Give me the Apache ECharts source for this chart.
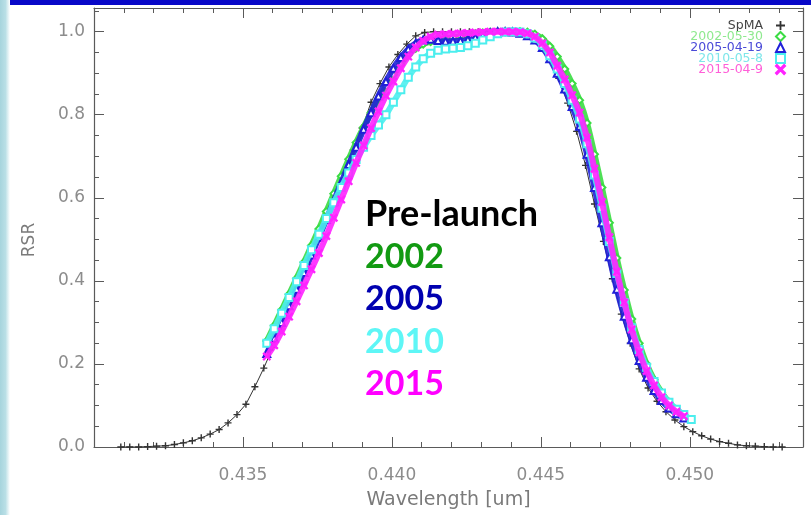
<!DOCTYPE html>
<html>
<head>
<meta charset="utf-8">
<script src="https://cdn.jsdelivr.net/npm/echarts@6/dist/echarts.min.js"></script>
<style>
html,body{margin:0;padding:0;background:#fff;}
#chart{width:811px;height:515px;}
</style>
</head>
<body>
<div id="chart"></div>
<script>
// ---- data ----
const seriesNames = ['SpMA', '2002-05-30', '2005-04-19', '2010-05-8', '2015-04-9'];
const annotationLabels = ['Pre-launch', '2002', '2005', '2010', '2015'];

// pre-launch (SpMA) wavelengths [um] and RSR
const wlPre = [0.4309,0.4312,0.4315,0.4318,0.4321,0.4324,0.4327,0.4330,0.4333,0.4336,
  0.4339,0.4342,0.4345,0.4348,0.4351,0.4354,0.4357,0.4360,0.4363,0.4366,
  0.4369,0.4372,0.4375,0.4378,0.4381,0.4384,0.4387,0.4390,0.4393,0.4396,
  0.4399,0.4402,0.4405,0.4408,0.4411,0.4414,0.4417,0.4420,0.4423,0.4426,
  0.4429,0.4432,0.4435,0.4438,0.4441,0.4444,0.4447,0.4450,0.4453,0.4456,
  0.4459,0.4462,0.4465,0.4468,0.4471,0.4474,0.4477,0.4480,0.4483,0.4486,
  0.4489,0.4492,0.4495,0.4498,0.4501,0.4504,0.4507,0.4510,0.4513,0.4516,
  0.4519,0.4522,0.4525,0.4528,0.4531];
const rsrPre = [0.000,0.000,0.000,0.001,0.002,0.003,0.006,0.010,0.015,0.022,
  0.031,0.042,0.058,0.078,0.103,0.145,0.190,0.240,0.290,0.340,
  0.388,0.440,0.495,0.550,0.605,0.660,0.715,0.768,0.830,0.875,
  0.915,0.945,0.970,0.990,0.998,1.000,1.000,1.000,1.000,1.000,
  1.000,1.000,1.000,1.000,0.999,0.996,0.986,0.968,0.935,0.888,
  0.828,0.760,0.678,0.585,0.495,0.405,0.320,0.250,0.188,0.142,
  0.110,0.085,0.065,0.049,0.037,0.027,0.019,0.013,0.009,0.005,
  0.003,0.002,0.001,0.000,0.000];

// on-orbit wavelengths [um]
const wlOrbit = [0.43580,0.43605,0.43630,0.43655,0.43680,0.43705,0.43730,0.43755,0.43780,0.43805,
  0.43830,0.43855,0.43880,0.43905,0.43930,0.43955,0.43980,0.44005,0.44030,0.44055,
  0.44080,0.44105,0.44130,0.44155,0.44180,0.44205,0.44230,0.44255,0.44280,0.44305,
  0.44330,0.44355,0.44380,0.44405,0.44430,0.44455,0.44480,0.44505,0.44530,0.44555,
  0.44580,0.44605,0.44630,0.44655,0.44680,0.44705,0.44730,0.44755,0.44780,0.44805,
  0.44830,0.44855,0.44880,0.44905,0.44930,0.44955,0.44980,0.45005];
const rsr2002 = [0.255,0.292,0.330,0.368,0.406,0.445,0.485,0.525,0.567,0.610,
  0.652,0.693,0.733,0.770,0.805,0.838,0.868,0.896,0.922,0.944,
  0.960,0.970,0.976,0.980,0.983,0.986,0.989,0.992,0.995,0.997,
  0.999,1.000,1.000,1.000,1.000,0.999,0.994,0.983,0.965,0.940,
  0.910,0.875,0.835,0.780,0.705,0.625,0.540,0.455,0.378,0.308,
  0.250,0.200,0.162,0.132,0.108,0.090,0.077,null];
const rsr2005 = [0.225,0.262,0.300,0.340,0.380,0.420,0.462,0.505,0.548,0.592,
  0.636,0.680,0.722,0.765,0.805,0.845,0.880,0.912,0.938,0.958,
  0.972,0.980,0.982,0.979,0.977,0.977,0.978,0.981,0.986,0.992,
  0.997,1.000,1.000,0.999,0.996,0.990,0.980,0.962,0.935,0.900,
  0.862,0.820,0.772,0.705,0.625,0.540,0.458,0.380,0.315,0.258,
  0.208,0.168,0.136,0.112,0.094,0.080,0.070,null];
const rsr2010 = [0.250,0.285,0.322,0.360,0.398,0.437,0.475,0.512,0.550,0.588,
  0.625,0.660,0.692,0.722,0.750,0.775,0.800,0.830,0.860,0.890,
  0.915,0.935,0.948,0.955,0.958,0.960,0.962,0.966,0.972,0.980,
  0.988,0.995,0.999,1.000,0.999,0.995,0.985,0.968,0.942,0.910,
  0.875,0.835,0.790,0.730,0.655,0.575,0.495,0.418,0.348,0.287,
  0.235,0.192,0.158,0.130,0.108,0.091,0.078,0.066];
const rsr2015 = [0.218,0.245,0.278,0.314,0.351,0.389,0.428,0.467,0.508,0.552,
  0.596,0.640,0.684,0.726,0.768,0.808,0.846,0.880,0.912,0.940,
  0.962,0.978,0.988,0.993,0.994,0.995,0.996,0.997,0.998,0.999,
  1.000,1.000,1.000,1.000,0.999,0.996,0.988,0.972,0.950,0.918,
  0.885,0.847,0.805,0.745,0.670,0.590,0.505,0.422,0.348,0.283,
  0.228,0.183,0.148,0.120,0.100,0.085,0.074,null];

// axis extents
const xMin = 0.430, xMax = 0.4538;
const yMin = 0, yMax = 1.057;

// ---- styling ----
const PLUS = 'path://M4,0H6V4H10V6H6V10H4V6H0V4H4Z';
const CROSS = 'path://M1,0L5,4L9,0L10,1L6,5L10,9L9,10L5,6L1,10L0,9L4,5L0,1Z';
const axisCol = '#5a5a5a';
const labelCol = '#8c8c8c';
const fontF = 'DejaVu Sans';

function pairs(xs, ys) {
  const out = [];
  for (let i = 0; i < xs.length; i++) if (ys[i] !== null) out.push([xs[i], ys[i]]);
  return out;
}

const orbitSeries = [
  {name: seriesNames[1], vals: rsr2002, color: '#3bdc44', symbol: 'emptyDiamond'},
  {name: seriesNames[2], vals: rsr2005, color: '#2020d8', symbol: 'emptyTriangle'},
  {name: seriesNames[3], vals: rsr2010, color: '#4ceeee', symbol: 'emptyRect'},
  {name: seriesNames[4], vals: rsr2015, color: '#ff22ff', symbol: CROSS}
];

const series = [{
  name: seriesNames[0], type: 'line', data: pairs(wlPre, rsrPre),
  symbol: PLUS, symbolSize: 7, showSymbol: true, showAllSymbol: true,
  lineStyle: {color: '#333', width: 1}, itemStyle: {color: '#333'},
  z: 2, silent: true
}];
orbitSeries.forEach((s, i) => {
  series.push({
    name: s.name, type: 'line', data: pairs(wlOrbit, s.vals), smooth: 0.3,
    symbol: s.symbol, symbolSize: 7, showSymbol: true, showAllSymbol: true,
    lineStyle: {color: s.color, width: 6, opacity: 0.9},
    itemStyle: {color: s.color, borderColor: s.color, borderWidth: 1.3},
    z: 3 + i, silent: true
  });
});

const legendIcons = [PLUS, 'emptyDiamond', 'emptyTriangle', 'emptyRect', CROSS];
const legendTextCols = ['#444', '#8fe98f', '#4b4bd8', '#7fe6ea', '#ff5fd8'];

function xAxisDef(pos, major) {
  return {
    type: 'value', position: pos, min: xMin, max: xMax,
    interval: major ? 0.005 : 0.001,
    axisLine: {show: major, onZero: false, lineStyle: {color: axisCol, width: 1.2}},
    axisTick: {show: true, inside: true, length: major ? 10 : 5, lineStyle: {color: axisCol, width: 1}},
    axisLabel: {show: major && pos === 'bottom', showMinLabel: false, showMaxLabel: false,
      formatter: v => v.toFixed(3), color: labelCol, fontSize: 17, fontFamily: fontF, margin: 20},
    splitLine: {show: false},
    name: (major && pos === 'bottom') ? 'Wavelength [um]' : '',
    nameLocation: 'middle', nameGap: 44,
    nameTextStyle: {color: '#7a7a7a', fontSize: 19, fontFamily: fontF}
  };
}
function yAxisDef(pos, major) {
  return {
    type: 'value', position: pos, min: yMin, max: yMax,
    interval: major ? 0.2 : 0.05,
    axisLine: {show: major, onZero: false, lineStyle: {color: axisCol, width: 1.2}},
    axisTick: {show: true, inside: true, length: major ? 10 : 5, lineStyle: {color: axisCol, width: 1}},
    axisLabel: {show: major && pos === 'left', showMaxLabel: false,
      formatter: v => v.toFixed(1), color: labelCol, fontSize: 17, fontFamily: fontF, margin: 9},
    splitLine: {show: false}
  };
}

const annoColors = ['#000000', '#129a12', '#0000b0', '#5ef6f6', '#ff00ff'];
const annoSizes = [36, 34, 34, 34, 34];
const annoGraphics = annotationLabels.map((t, i) => ({
  type: 'text', x: 365, y: 214.5 + i * 42.5, z: 100,
  style: {text: t, fill: annoColors[i], font: 'bold ' + annoSizes[i] + 'px Lato', verticalAlign: 'middle', align: 'left'}
}));

const option = {
  animation: false,
  backgroundColor: '#ffffff',
  grid: {left: 94, right: 8, top: 8, bottom: 63},
  xAxis: [xAxisDef('bottom', true), xAxisDef('bottom', false), xAxisDef('top', true), xAxisDef('top', false)],
  yAxis: [yAxisDef('left', true), yAxisDef('left', false), yAxisDef('right', true), yAxisDef('right', false)],
  legend: {
    orient: 'vertical', align: 'right', right: 20, top: 14,
    itemWidth: 9, itemHeight: 9, itemGap: -2, selectedMode: false,
    textStyle: {fontSize: 12.5, fontFamily: fontF, lineHeight: 11, padding: [0, 8, 0, 0]},
    data: seriesNames.map((n, i) => ({name: n, icon: legendIcons[i], textStyle: {color: legendTextCols[i]}}))
  },
  graphic: [
    {type: 'rect', shape: {x: 0, y: 0, width: 811, height: 5}, style: {fill: '#0808c8'}, z: 50},
    {type: 'rect', shape: {x: 0, y: 0, width: 10, height: 515}, z: 50,
      style: {fill: new echarts.graphic.LinearGradient(0, 0, 1, 0, [
        {offset: 0, color: '#a6d4dd'}, {offset: 0.55, color: '#b9dfe6'}, {offset: 1, color: '#ffffff'}])}},
    {type: 'text', x: 30, y: 240, rotation: Math.PI / 2, z: 60,
      style: {text: 'RSR', fill: '#7a7a7a', font: '17px "DejaVu Sans"', align: 'center', verticalAlign: 'middle'}}
  ].concat(annoGraphics),
  series: series
};

const chart = echarts.init(document.getElementById('chart'), null, {renderer: 'canvas'});
chart.setOption(option);
</script>
</body>
</html>
